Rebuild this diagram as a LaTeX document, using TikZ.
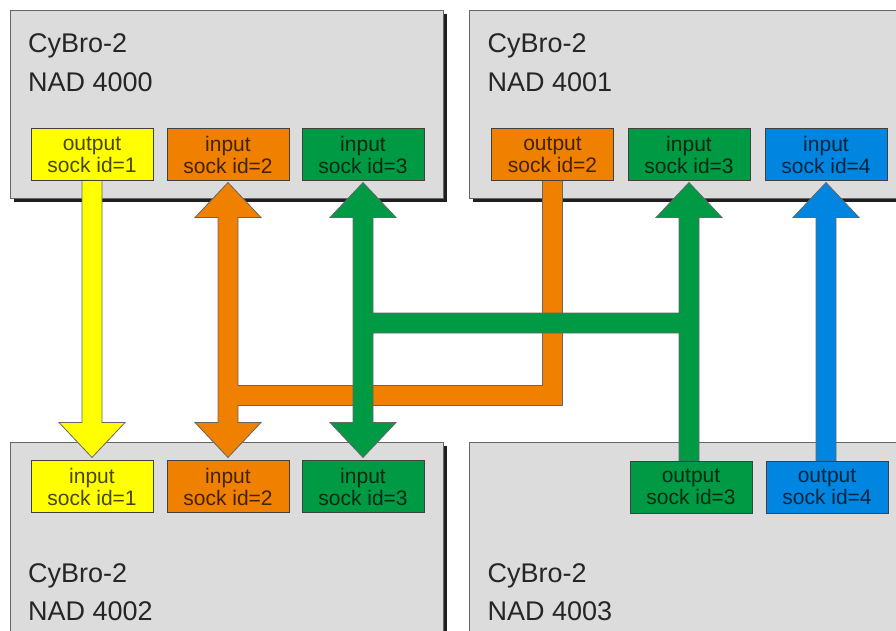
\documentclass[tikz,border=0pt]{standalone}
\usepackage{fontspec}
\setmainfont{Liberation Sans}
\usetikzlibrary{calc,shadows}
\definecolor{panelgray}{HTML}{DCDCDC}
\definecolor{sockyellow}{HTML}{FFFF00}
\definecolor{sockorange}{HTML}{F08000}
\definecolor{sockgreen}{HTML}{009A44}
\definecolor{sockblue}{HTML}{0085E0}
\pgfdeclarelayer{panels}
\pgfdeclarelayer{links}
\pgfsetlayers{panels,links,main}

\begin{document}
\begin{tikzpicture}[x=1pt,y=1pt,
  panel/.style={draw=black!60, line width=0.8pt, fill=panelgray, anchor=north west,
    inner sep=0, outer sep=0, minimum width=433pt, minimum height=188pt,
    drop shadow={opacity=1, fill=black!88, shadow xshift=4pt, shadow yshift=-4pt}},
  title/.style={anchor=base west, inner sep=0, font=\fontsize{27}{27}\selectfont, text=black!85},
  sock/.style={draw=black!75, line width=0.8pt, minimum width=122pt, minimum height=52pt,
    inner sep=0, outer sep=0, align=center, font=\fontsize{21}{22}\selectfont,
    text=black, text opacity=0.72},
  link/.style={draw=black!60, line width=0.8pt, line join=miter},
]
\useasboundingbox (0,0) rectangle (896,-631);
\clip (0,0) rectangle (896,-631);

% controller panels
\begin{pgfonlayer}{panels}
  \node[panel] (p0) at (10,-10) {};
  \node[panel, minimum width=440pt] (p1) at (469,-10) {};
  \node[panel, minimum height=200pt] (p2) at (10,-442) {};
  \node[panel, minimum width=440pt, minimum height=200pt] (p3) at (469,-442) {};
\end{pgfonlayer}

% panel titles
\node[title] (t0a) at (28,-53) {CyBro-2};
\node[title] (t0b) at (28,-92) {NAD 4000};
\node[title] (t1a) at (487.5,-53) {CyBro-2};
\node[title] (t1b) at (487.5,-92) {NAD 4001};
\node[title] (t2a) at (28,-582) {CyBro-2};
\node[title] (t2b) at (28,-620) {NAD 4002};
\node[title] (t3a) at (487.5,-582) {CyBro-2};
\node[title] (t3b) at (487.5,-620) {NAD 4003};

% sockets of NAD 4000
\node[sock, fill=sockyellow] (a1) at (92,-154.5) {output\\sock id=1};
\node[sock, fill=sockorange] (a2) at (228,-154.5) {input\\sock id=2};
\node[sock, fill=sockgreen]  (a3) at (363,-154.5) {input\\sock id=3};
% sockets of NAD 4001
\node[sock, fill=sockorange] (b2) at (552.5,-154.5) {output\\sock id=2};
\node[sock, fill=sockgreen]  (b3) at (689,-154.5) {input\\sock id=3};
\node[sock, fill=sockblue]   (b4) at (826,-154.5) {input\\sock id=4};
% sockets of NAD 4002
\node[sock, fill=sockyellow] (c1) at (92,-486.5) {input\\sock id=1};
\node[sock, fill=sockorange] (c2) at (228,-486.5) {input\\sock id=2};
\node[sock, fill=sockgreen]  (c3) at (363,-486.5) {input\\sock id=3};
% sockets of NAD 4003
\node[sock, fill=sockgreen]  (d3) at (691,-487) {output\\sock id=3};
\node[sock, fill=sockblue]   (d4) at (827,-487) {output\\sock id=4};

% bus levels
\coordinate (oj) at (0,-395.5);
\coordinate (gj) at (0,-323);

\begin{pgfonlayer}{links}
  % socket 1: NAD 4000 -> NAD 4002
  \path[link, fill=sockyellow] let \p1=(a1.south), \p2=(c1.north) in
    (\x1-10pt,\y1) -- (\x1-10pt,\y2+38pt) -- (\x1-33pt,\y2+38pt) -- (\x1,\y2+3pt)
    -- (\x1+33pt,\y2+38pt) -- (\x1+10pt,\y2+38pt) -- (\x1+10pt,\y1) -- cycle;
  % socket 2: NAD 4001 -> NAD 4000, NAD 4002
  \path[link, fill=sockorange] let \p1=(a2.south), \p2=(c2.north), \p3=(b2.south), \p4=(oj) in
    (\x1,\y1-2pt) -- (\x1+33pt,\y1-37pt) -- (\x1+10pt,\y1-37pt) -- (\x1+10pt,\y4+10pt)
    -- (\x3-10pt,\y4+10pt) -- (\x3-10pt,\y3) -- (\x3+10pt,\y3) -- (\x3+10pt,\y4-10pt)
    -- (\x1+10pt,\y4-10pt) -- (\x1+10pt,\y2+38pt) -- (\x1+33pt,\y2+38pt) -- (\x1,\y2+3pt)
    -- (\x1-33pt,\y2+38pt) -- (\x1-10pt,\y2+38pt) -- (\x1-10pt,\y1-37pt) -- (\x1-33pt,\y1-37pt) -- cycle;
  % socket 3: NAD 4003 -> NAD 4000, NAD 4001, NAD 4002
  \path[link, fill=sockgreen] let \p1=(a3.south), \p2=(c3.north), \p4=(gj), \p5=(b3.south), \p6=(d3.north) in
    (\x1,\y1-2pt) -- (\x1+33pt,\y1-37pt) -- (\x1+10pt,\y1-37pt) -- (\x1+10pt,\y4+10pt)
    -- (\x5-10pt,\y4+10pt) -- (\x5-10pt,\y5-37pt) -- (\x5-33pt,\y5-37pt) -- (\x5,\y5-2pt)
    -- (\x5+33pt,\y5-37pt) -- (\x5+10pt,\y5-37pt) -- (\x5+10pt,\y6) -- (\x5-10pt,\y6)
    -- (\x5-10pt,\y4-10pt) -- (\x1+10pt,\y4-10pt) -- (\x1+10pt,\y2+38pt) -- (\x1+33pt,\y2+38pt)
    -- (\x1,\y2+3pt) -- (\x1-33pt,\y2+38pt) -- (\x1-10pt,\y2+38pt) -- (\x1-10pt,\y1-37pt)
    -- (\x1-33pt,\y1-37pt) -- cycle;
  % socket 4: NAD 4003 -> NAD 4001
  \path[link, fill=sockblue] let \p1=(b4.south), \p2=(d4.north) in
    (\x1,\y1-2pt) -- (\x1+33pt,\y1-37pt) -- (\x1+10pt,\y1-37pt) -- (\x1+10pt,\y2)
    -- (\x1-10pt,\y2) -- (\x1-10pt,\y1-37pt) -- (\x1-33pt,\y1-37pt) -- cycle;
\end{pgfonlayer}
\end{tikzpicture}
\end{document}
